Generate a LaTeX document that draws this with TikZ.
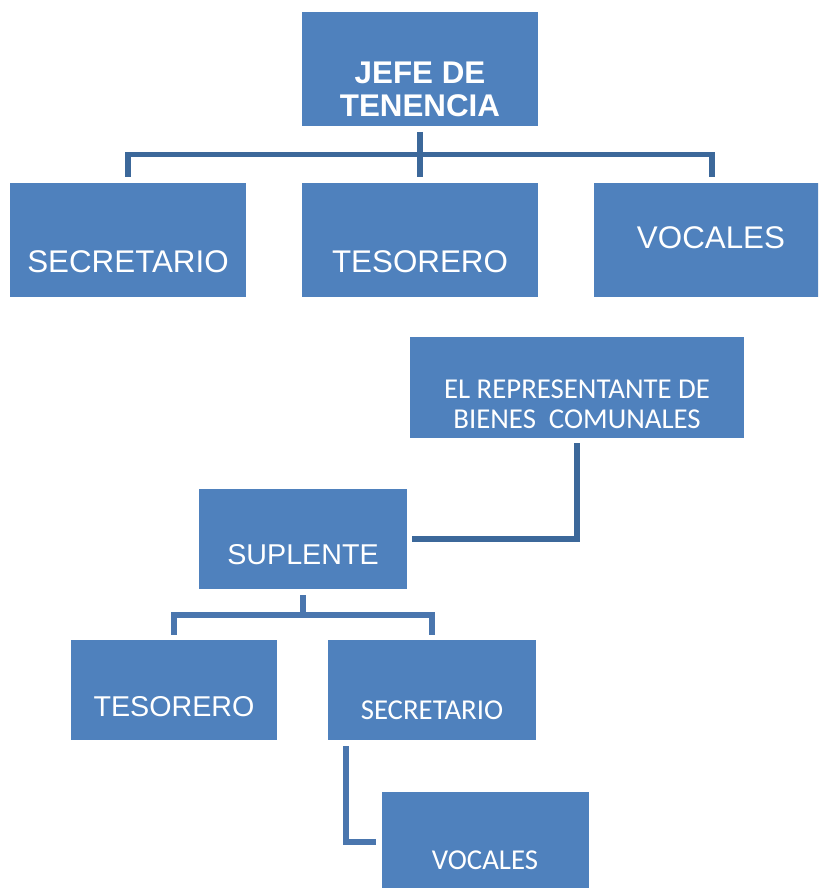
\documentclass[tikz,border=0pt]{standalone}
\usepackage{fontspec}
\setmainfont{Liberation Sans}
\newfontfamily\calibri{Carlito}
\usetikzlibrary{calc}
\definecolor{boxblue}{RGB}{79,129,189}
\definecolor{linkdark}{RGB}{60,104,154}
\definecolor{linklight}{RGB}{74,118,174}
\begin{document}
\begin{tikzpicture}[x=0.75pt,y=-0.75pt,line join=miter,
		box/.style 2 args={fill=boxblue,inner sep=0pt,minimum width=#1*0.75pt,minimum height=#2*0.75pt},
		lbl/.style={text=white,inner sep=0pt,font=\fontsize{23.5pt}{24.75pt}\selectfont},
		smalllbl/.style={text=white,inner sep=0pt,font=\fontsize{21.5pt}{24pt}\selectfont},
		boldlbl/.style={text=white,inner sep=0pt,align=center,font=\fontsize{23.5pt}{24.75pt}\selectfont\bfseries},
		clbl/.style={text=white,inner sep=0pt,align=center,font=\calibri\fontsize{21.6pt}{22.5pt}\selectfont},
		link/.style={line width=4.2pt,linkdark},
		linkb/.style={line width=4.2pt,linklight}]
	\useasboundingbox (0,0) rectangle (818,888);
	\clip (0,0) rectangle (818,888);
	% boxes
	\node[box={236}{114}] (jefe) at (420,69) {};
	\node[box={236}{114}] (sec1) at (128,240) {};
	\node[box={236}{114}] (tes1) at (420,240) {};
	\node[box={236}{114}] (voc1) at (712,240) {};
	\node[box={334}{101}] (rep) at (577,387.5) {};
	\node[box={208}{100}] (sup) at (303,539) {};
	\node[box={206}{100}] (tes2) at (174,690) {};
	\node[box={208}{100}] (sec2) at (432,690) {};
	\node[box={207}{100}] (voc2) at (485.5,842) {};
	% texts
	\node[boldlbl,anchor=north] (jefe-t) at (420,62) {JEFE DE\\TENENCIA};
	\node[lbl,anchor=base] (sec1-t) at (128,272) {SECRETARIO};
	\node[lbl,anchor=base] (tes1-t) at (420,272) {TESORERO};
	\node[lbl,anchor=base] (voc1-t) at (711,248) {VOCALES};
	\node[clbl,anchor=north] (rep-t) at (577,380) {EL REPRESENTANTE DE\\BIENES~ COMUNALES};
	\node[smalllbl,anchor=base] (sup-t) at (303,564) {SUPLENTE};
	\node[smalllbl,anchor=base] (tes2-t) at (174,716) {TESORERO};
	\node[clbl,anchor=base] (sec2-t) at (432,719) {SECRETARIO};
	\node[clbl,anchor=base] (voc2-t) at (485,869) {VOCALES};
	% connectors
	\coordinate (bar1) at (0,154.5);
	\coordinate (bar2) at (0,615);
	\draw[link] ($(jefe.south)+(0,5.5)$) -- ($(tes1.north)+(0,-6)$);
	\draw[link] ($(sec1.north)+(0,-6)$) |- (bar1 -| voc1.north) -- ($(voc1.north)+(0,-6)$);
	\draw[link] ($(rep.south)+(0,5)$) |- ($(sup.east)+(5,0)$);
	\draw[linkb] ($(sup.south)+(0,6)$) -- (sup.south |- bar2);
	\draw[linkb] ($(tes2.north)+(0,-5)$) |- (bar2 -| sec2.north) -- ($(sec2.north)+(0,-5)$);
	\draw[linkb] ($(sec2.south west)+(18.5,6)$) |- ($(voc2.west)+(-6,0)$);
\end{tikzpicture}
\end{document}
